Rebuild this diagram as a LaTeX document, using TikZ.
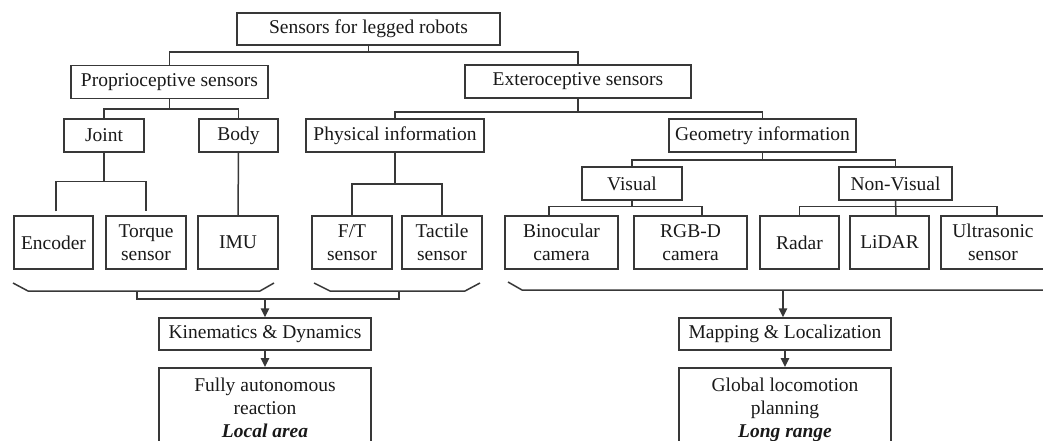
\documentclass[tikz,border=0pt]{standalone}
\usepackage{fontspec}
\setmainfont{Liberation Serif}
\usetikzlibrary{arrows.meta,calc}

\begin{document}
\begin{tikzpicture}[x=1pt,y=-1pt,
  line/.style={draw=black!78, line width=1.5pt},
  box/.style={line, rectangle, inner sep=0pt, align=center,
    font=\fontsize{19.5}{23}\selectfont, text=black!90},
  single/.style={box, minimum height=33pt},
  leaf/.style={box, minimum height=53pt},
  arr/.style={line, -{Triangle[length=9pt,width=8.5pt]}},
  brace/.style={line, line join=round},
]
\useasboundingbox (0,0) rectangle (1043,441);
\clip (0,0) rectangle (1043,441);

% ---- tree levels ----
\node[box, minimum width=263pt, minimum height=32pt] (root) at (368.5,29) {Sensors for legged robots};

\node[single, minimum width=197pt] (prop) at (169.5,82) {Proprioceptive sensors};
\node[single, minimum width=226pt] (ext)  at (578,81.5)  {Exteroceptive sensors};

\node[single, minimum width=80pt]  (joint) at (104,135.5)   {Joint};
\node[single, minimum width=79pt]  (body)  at (238.5,135.5) {Body};
\node[single, minimum width=178pt] (phys)  at (395,135.5)   {Physical information};
\node[single, minimum width=187pt] (geo)   at (762.5,135.5) {Geometry information};

\node[single, minimum width=100pt] (visual) at (632,183.5)   {Visual};
\node[single, minimum width=113pt] (nonvis) at (895.5,183.5) {Non-Visual};

% ---- sensor leaves ----
\node[leaf, minimum width=79pt]  (encoder)   at (53.5,242.5)  {Encoder};
\node[leaf, minimum width=80pt]  (torque)    at (146,242.5)   {Torque\\sensor};
\node[leaf, minimum width=80pt]  (imu)       at (238,242.5)   {IMU};
\node[leaf, minimum width=80pt]  (ft)        at (352,242.5)   {F/T\\sensor};
\node[leaf, minimum width=80pt]  (tactile)   at (442,242.5)   {Tactile\\sensor};
\node[leaf, minimum width=113pt] (binocular) at (561.5,242.5) {Binocular\\camera};
\node[leaf, minimum width=113pt] (rgbd)      at (690.5,242.5) {RGB-D\\camera};
\node[leaf, minimum width=79pt]  (radar)     at (799.5,242.5) {Radar};
\node[leaf, minimum width=79pt]  (lidar)     at (889.5,242.5) {LiDAR};
\node[leaf, minimum width=104pt] (ultra)     at (993,242.5)   {Ultrasonic\\sensor};

% ---- processing and outcome ----
\node[single, minimum width=212pt, minimum height=32pt] (kin) at (265,334) {Kinematics \& Dynamics};
\node[single, minimum width=212pt, minimum height=32pt] (map) at (785,334) {Mapping \& Localization};

\node[box, anchor=north, minimum width=212pt, inner ysep=10pt, text depth=40pt] (auto) at (265,367)
  {Fully autonomous\\reaction\\\textbf{\textit{Local area}}};
\node[box, anchor=north, minimum width=212pt, inner ysep=10pt, text depth=40pt] (global) at (785,367)
  {Global locomotion\\planning\\\textbf{\textit{Long range}}};

% ---- tree connectors ----
\draw[line] (root.south) -- (root.south |- 0,52);
\draw[line] (prop.north) -- (prop.north |- 0,52) -| (ext.north);

\draw[line] (prop.south) -- (prop.south |- 0,109);
\draw[line] (joint.north) |- (body.north |- 0,109) -- (body.north);

\draw[line] (ext.south) -- (ext.south |- 0,112);
\draw[line] (phys.north) |- (geo.north |- 0,112) -- (geo.north);

\draw[line] (joint.south) -- (joint.south |- 0,182);
\draw[line] ($(encoder.north)+(2.5,-4)$) -- ++(0,-30) -| ($(torque.north)+(0,-4)$);

\draw[line] (body.south) -- (imu.north);

\draw[line] (phys.south) -- (phys.south |- 0,184);
\draw[line] (ft.north) |- (tactile.north |- 0,184) -- (tactile.north);

\draw[line] (geo.south) -- (geo.south |- 0,160);
\draw[line] (visual.north) |- (nonvis.north |- 0,160) -- (nonvis.north);

\draw[line] (visual.south) -- (visual.south |- 0,207);
\draw[line] ($(binocular.north)+(-12.5,0)$) |- ($(rgbd.north)+(11.5,-9)$) -- ($(rgbd.north)+(11.5,0)$);

\draw[line] (nonvis.south) -- ($(lidar.north)+(6.5,0)$);
\draw[line] (radar.north) |- ($(ultra.north)+(4,-9)$) -- ($(ultra.north)+(4,0)$);

% ---- grouping brackets ----
\draw[brace] (13,283) -- (28,291) -- (260,291) -- (274,283);
\draw[brace] (314,283) -- (330,291) -- (465,291) -- (480,283);
\draw[brace] (508,282) -- (522,290) -- (1044,290) -- (1058,282);

\coordinate (lb) at (137,291);
\coordinate (mb) at (399,291);
\coordinate (jn) at (265,299);
\coordinate (rb) at (783,290);
\draw[line] (lb) -- (lb |- jn) -- (mb |- jn) -- (mb);

% ---- flow arrows ----
\draw[arr] (jn) -- (jn |- kin.north);
\draw[arr] (kin.south) -- (auto.north);
\draw[arr] (rb) -- (rb |- map.north);
\draw[arr] (map.south) -- (global.north);
\end{tikzpicture}
\end{document}
